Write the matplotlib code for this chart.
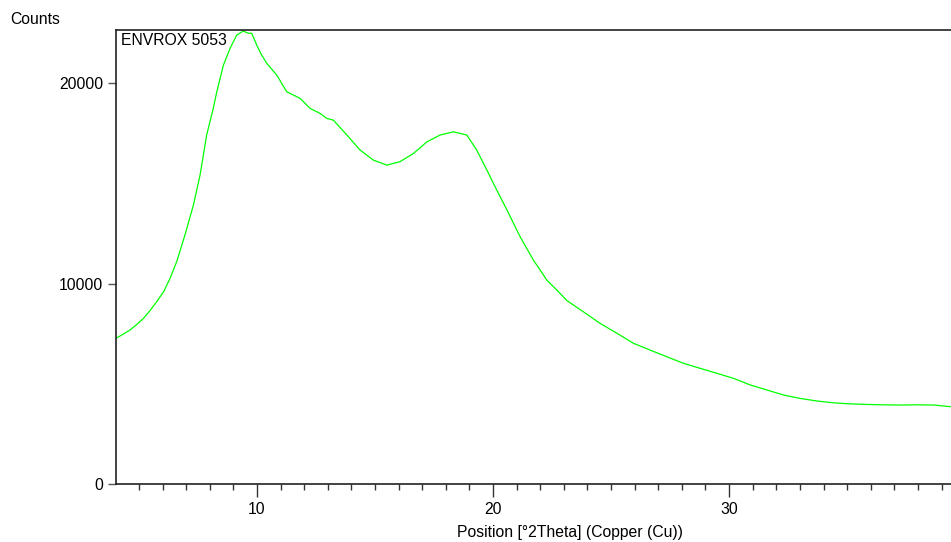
import matplotlib
matplotlib.use("Agg")
import matplotlib.pyplot as plt
from matplotlib.ticker import MultipleLocator, FixedLocator

plt.rcParams['font.family'] = ['Liberation Sans', 'DejaVu Sans']

# Data (2Theta, counts)
two_theta = [4.03, 4.3, 4.62, 4.9, 5.19, 5.45, 5.75, 6.05, 6.32, 6.6, 6.95, 7.31, 7.59,
             7.87, 8.15, 8.30, 8.58, 8.86, 9.14, 9.42, 9.6, 9.78, 9.99, 10.2, 10.42,
             10.84, 11.26, 11.83, 12.25, 12.67, 12.96, 13.24, 13.81, 14.37, 14.93,
             15.5, 16.06, 16.63, 17.2, 17.76, 18.32, 18.89, 19.31, 19.74, 20.16,
             20.59, 21.15, 21.71, 22.0, 22.28, 22.7, 23.13, 23.83, 24.54, 25.25,
             25.95, 26.66, 27.36, 28.07, 28.78, 29.49, 30.19, 30.9, 31.6, 32.31,
             33.01, 33.72, 34.42, 35.1, 35.83, 36.5, 37.25, 38.0, 38.66, 39.37]
counts = [7270, 7450, 7680, 7950, 8260, 8620, 9090, 9600, 10260, 11090, 12420, 13920, 15410,
          17410, 18740, 19570, 20900, 21730, 22390, 22600, 22500, 22480, 21900, 21400, 20980,
          20400, 19570, 19240, 18740, 18490, 18240, 18150, 17410, 16660, 16160,
          15910, 16080, 16490, 17070, 17410, 17570, 17410, 16660, 15660, 14660,
          13670, 12330, 11170, 10670, 10170, 9680, 9150, 8590, 8010, 7520,
          7020, 6680, 6350, 6020, 5770, 5520, 5270, 4940, 4690, 4440,
          4270, 4140, 4050, 4000, 3970, 3950, 3940, 3950, 3940, 3860]

sample_label = "ENVROX 5053"
x_major = [10, 20, 30]
y_major = [0, 10000, 20000]

FS = 11.3
W, H = 951, 542
fig = plt.figure(figsize=(W / 100, H / 100), dpi=100)
ax = fig.add_axes([116 / W, 1 - 484 / H, (W - 116) / W, (484 - 30) / H])

ax.plot(two_theta, counts, color='#00ff00', linewidth=0.9)

ax.set_xlim(4.03, 39.4)
ax.set_ylim(0, 22650)

ax.xaxis.set_major_locator(FixedLocator(x_major))
ax.xaxis.set_minor_locator(MultipleLocator(1))
ax.yaxis.set_major_locator(FixedLocator(y_major))
ax.set_yticklabels([str(v) for v in y_major])

ax.tick_params(axis='x', which='major', direction='out', length=9, width=1,
               color='#333333', labelsize=FS, pad=4)
ax.tick_params(axis='x', which='minor', direction='out', length=4, width=1,
               color='#333333')
ax.tick_params(axis='y', which='major', direction='out', length=6, width=1,
               color='#555555', labelsize=FS, pad=3)

ax.spines['right'].set_visible(False)
for s in ['left', 'top', 'bottom']:
    ax.spines[s].set_linewidth(1.2)
    ax.spines[s].set_color('#222222')

ax.text(0.006, 0.993, sample_label, transform=ax.transAxes, ha='left', va='top',
        fontsize=FS)

fig.text(10 / W, 1 - 20 / H, "Counts", ha='left', va='center', fontsize=FS)
fig.text(570 / W, 1 - 532 / H, "Position [°2Theta] (Copper (Cu))", ha='center',
         va='center', fontsize=FS)

fig.savefig("out.png", dpi=100)
